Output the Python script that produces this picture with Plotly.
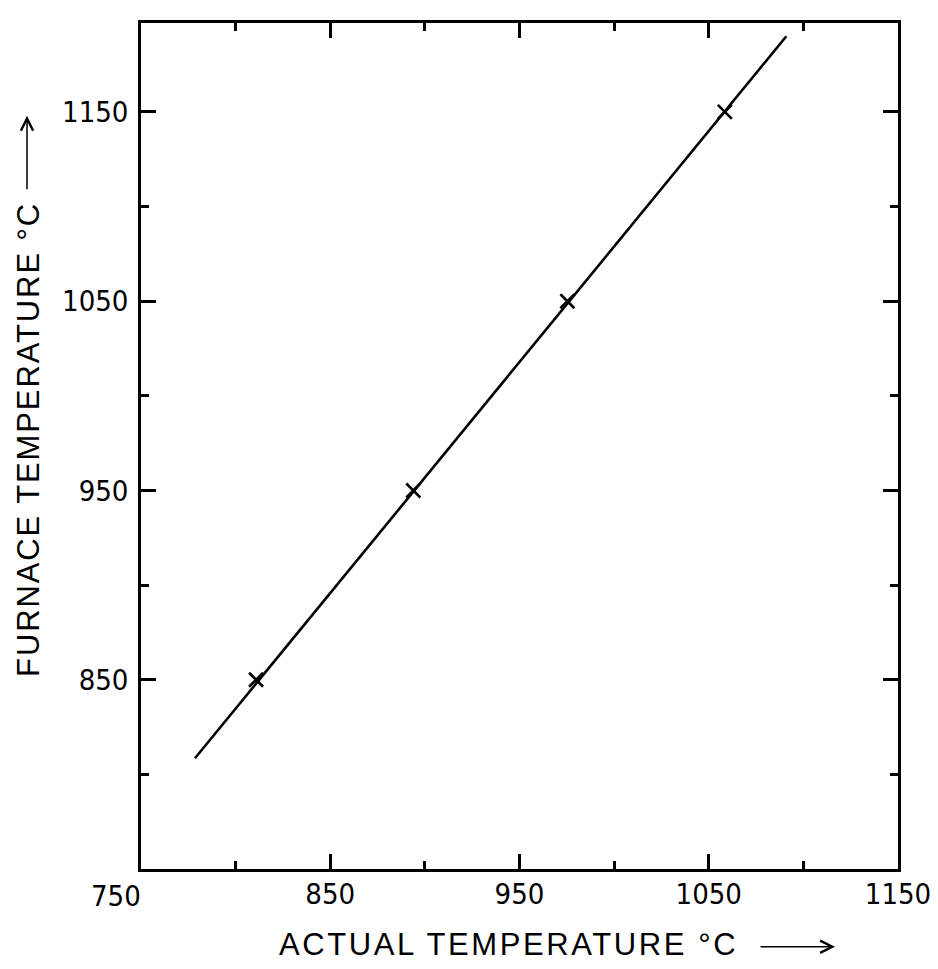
import plotly.graph_objects as go

# Data
actual_temp = [810.8, 893.9, 975.3, 1058.5]
furnace_temp = [850, 950, 1050, 1150]
fit_x = [778.5, 1091]
fit_y = [808.5, 1190]

x_tickvals = [750, 850, 950, 1050, 1150]
x_ticktext = ["", "850", "950", "1050", "1150"]
y_tickvals = [850, 950, 1050, 1150]
y_ticktext = ["850", "950", "1050", "1150"]

tick_font = dict(family="DejaVu Sans Condensed, sans-serif", size=29, color="black")
title_font = dict(family="Liberation Sans, Arial, sans-serif", size=31, color="black")

fig = go.Figure()
fig.add_trace(go.Scatter(x=fit_x, y=fit_y, mode="lines",
                         line=dict(color="black", width=2.6), showlegend=False, hoverinfo="skip"))
fig.add_trace(go.Scatter(x=actual_temp, y=furnace_temp, mode="markers",
                         marker=dict(symbol="x-thin", size=14, line=dict(color="black", width=2.6)),
                         showlegend=False))

axis_common = dict(showgrid=False, zeroline=False, showline=True, linecolor="black", linewidth=2.5,
                   mirror="ticks", ticks="inside", ticklen=15, tickwidth=2.5, tickcolor="black",
                   tickfont=tick_font, tickmode="array")

fig.update_xaxes(range=[750, 1150], tickvals=x_tickvals, ticktext=x_ticktext, ticklabelstandoff=-3,
                 minor=dict(tick0=800, dtick=100, ticks="inside", ticklen=8, tickwidth=2.5, tickcolor="black"),
                 **axis_common)
fig.update_yaxes(range=[750, 1197], tickvals=y_tickvals, ticktext=y_ticktext, ticklabelstandoff=4,
                 minor=dict(tick0=800, dtick=100, ticks="inside", ticklen=8, tickwidth=2.5, tickcolor="black"),
                 **axis_common)

L, T, PW, PH = 133, 13, 757, 848  # plot area origin and size


def px(xp):
    return (xp - 139) / PW


def py(yp):
    return (867 - yp) / PH


annotations = [
    dict(text="750", x=px(114), y=py(894), xref="paper", yref="paper", xanchor="center", yanchor="middle",
         showarrow=False, font=tick_font),
    dict(text='<span style="letter-spacing:2.6px">ACTUAL TEMPERATURE °C</span>', x=px(275), y=py(943),
         xref="paper", yref="paper", xanchor="left", yanchor="middle", showarrow=False, font=title_font),
    dict(text='<span style="letter-spacing:1.9px">FURNACE TEMPERATURE °C</span>', x=px(27), y=py(677),
         xref="paper", yref="paper", xanchor="center", yanchor="bottom", textangle=-90,
         showarrow=False, font=title_font),
    # arrows
    dict(x=px(833), y=py(945), ax=-76, ay=0,
         xref="paper", yref="paper", axref="pixel", ayref="pixel", text="", showarrow=True,
         arrowhead=5, arrowsize=1.6, arrowwidth=1.5, arrowcolor="black"),
    dict(x=px(25), y=py(112), ax=0, ay=75,
         xref="paper", yref="paper", axref="pixel", ayref="pixel", text="", showarrow=True,
         arrowhead=5, arrowsize=1.6, arrowwidth=1.5, arrowcolor="black"),
]

fig.update_layout(width=938, height=969, autosize=False,
                  margin=dict(l=L, r=938 - L - PW, t=T, b=969 - T - PH),
                  plot_bgcolor="white", paper_bgcolor="white",
                  annotations=annotations)

fig.write_html("out.html")
